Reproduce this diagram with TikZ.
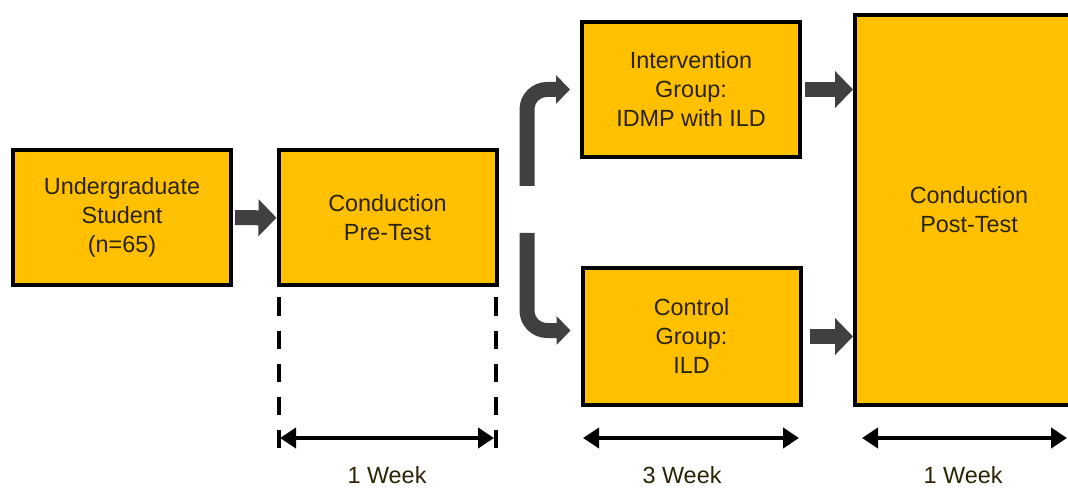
\documentclass[tikz,border=0pt]{standalone}
\usepackage{fontspec}
\setmainfont{Liberation Sans}
\usetikzlibrary{arrows.meta,positioning}
\definecolor{sgold}{HTML}{FFC000}
\definecolor{sgrey}{HTML}{404040}
\definecolor{stext}{HTML}{2B2306}

\begin{document}
\begin{tikzpicture}[x=0.5pt,y=0.5pt,every node/.style={font=\fontsize{11.7}{14.5}\selectfont,align=center,text=stext},box/.style={draw=black,line width=2pt,fill=sgold,inner sep=2pt,minimum width=109pt,minimum height=67.5pt},arr/.style={-{Triangle[length=9pt,width=18pt]},sgrey,line width=7.5pt},barr/.style={-{Triangle[length=7pt,width=14pt]},sgrey,line width=7.5pt,rounded corners=10pt},guide/.style={black,line width=2pt,dash pattern=on 9pt off 7.5pt},weekarr/.style={{Triangle[length=8pt,width=10pt]}-{Triangle[length=8pt,width=10pt]},black,line width=2pt}]
\useasboundingbox (0,0) rectangle (1068,487);
\node[box] (stud) at (122,269.5) {Undergraduate\\Student\\(n=65)};
\node[box] (pre) at (387.5,269) {Conduction\\Pre-Test};
\node[box] (intv) at (691,397.5) {Intervention\\Group:\\IDMP with ILD};
\node[box,minimum height=68.5pt] (ctrl) at (691.5,150.5) {Control\\Group:\\ILD};
\node[box,minimum width=114pt,minimum height=195pt] (post) at (969,277) {Conduction\\Post-Test};
\coordinate (upfoot) at (527,301);
\coordinate (downfoot) at (527,254);
\draw[arr,shorten <=1pt] (stud) -- (pre);
\draw[barr] (upfoot) |- ([xshift=-5pt]intv.west);
\draw[barr] (downfoot) |- ([xshift=-5pt,yshift=3pt]ctrl.west);
\draw[arr,shorten <=1.5pt] (intv.east) -- (intv.east -| post.west);
\draw[arr,shorten <=3.5pt] (ctrl.east) -- (ctrl.east -| post.west);
% week spans
\draw[guide] ([xshift=1pt,yshift=-5pt]pre.south west) -- ([xshift=1pt,yshift=-80pt]pre.south west);
\draw[guide] ([xshift=-1.5pt,yshift=-5pt]pre.south east) -- ([xshift=-1.5pt,yshift=-80pt]pre.south east);
\coordinate (w1l) at (280,49); \coordinate (w1r) at (494,49);
\coordinate (w2l) at (583,49); \coordinate (w2r) at (799,49);
\coordinate (w3l) at (862,49); \coordinate (w3r) at (1067,49);
\draw[weekarr] (w1l) -- (w1r);
\draw[weekarr] (w2l) -- (w2r);
\draw[weekarr] (w3l) -- (w3r);
\node (wk1) at (387,12) {1 Week};
\node (wk2) at (682,12) {3 Week};
\node (wk3) at (963,12) {1 Week};
\end{tikzpicture}
\end{document}
